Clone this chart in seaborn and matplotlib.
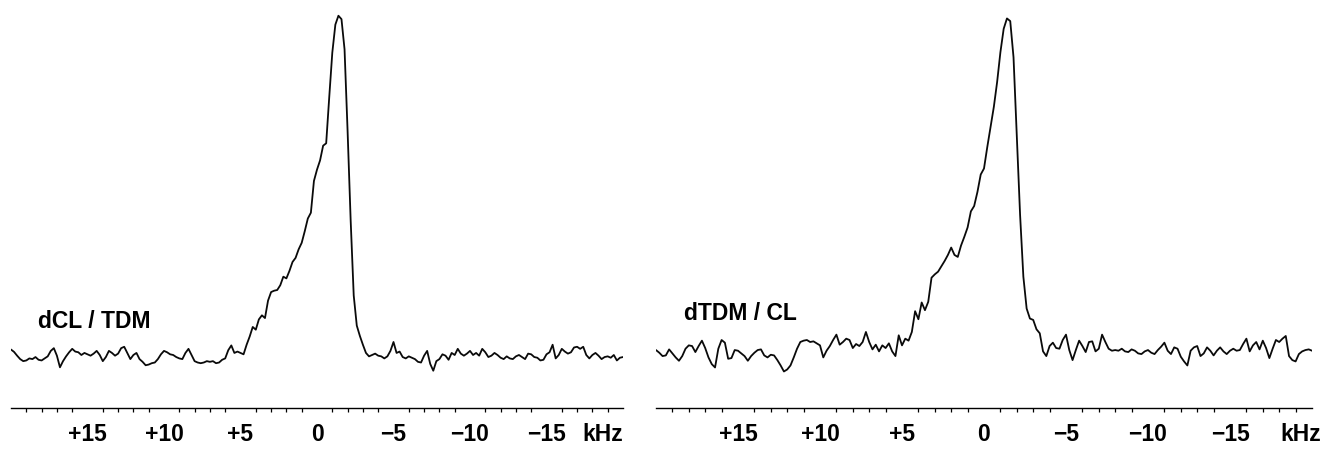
import numpy as np
import pandas as pd
import matplotlib
matplotlib.use("Agg")
import matplotlib.pyplot as plt
import seaborn as sns

# Frequency grid (kHz), 0.2 kHz spacing from +20 down to -20
FREQ_START = 20.0
FREQ_STOP = -20.0
N_POINTS = 201

# Normalised 2H NMR intensities, one row = 10 points (2 kHz)
dcl_tdm = [
    0.022, 0.015, 0.004, -0.006, -0.012, -0.010, -0.004, -0.006, 0.000, -0.008,
    -0.010, -0.004, 0.002, 0.018, 0.026, 0.004, -0.030, -0.012, 0.002, 0.014,
    0.024, 0.016, 0.014, 0.006, 0.012, 0.008, 0.004, 0.010, 0.018, 0.006,
    -0.012, 0.000, 0.018, 0.012, 0.004, 0.010, 0.026, 0.030, 0.012, -0.006,
    0.006, 0.012, -0.006, -0.014, -0.024, -0.022, -0.018, -0.016, -0.006, 0.008,
    0.018, 0.014, 0.008, 0.006, 0.000, -0.004, -0.006, 0.012, 0.024, 0.006,
    -0.012, -0.016, -0.018, -0.016, -0.012, -0.014, -0.012, -0.018, -0.016, -0.008,
    -0.004, 0.020, 0.034, 0.012, 0.016, 0.012, 0.008, 0.036, 0.060, 0.088,
    0.080, 0.110, 0.122, 0.114, 0.165, 0.190, 0.194, 0.196, 0.210, 0.235,
    0.230, 0.252, 0.278, 0.290, 0.315, 0.334, 0.368, 0.405, 0.422, 0.515,
    0.548, 0.575, 0.618, 0.625, 0.760, 0.890, 0.972, 0.998, 0.988, 0.900,
    0.660, 0.400, 0.180, 0.092, 0.062, 0.036, 0.012, 0.002, 0.006, 0.010,
    0.004, 0.002, -0.004, 0.002, 0.018, 0.044, 0.012, 0.016, 0.000, -0.004,
    0.002, -0.002, -0.006, -0.014, -0.016, 0.004, 0.018, -0.020, -0.040, -0.012,
    -0.006, 0.008, 0.004, -0.008, 0.012, 0.006, 0.024, 0.010, 0.004, 0.010,
    0.018, 0.006, 0.012, 0.004, 0.024, 0.014, 0.000, 0.004, 0.012, 0.006,
    -0.002, -0.006, 0.002, -0.004, -0.006, 0.002, 0.006, 0.000, -0.006, 0.010,
    0.008, 0.000, -0.002, -0.010, -0.008, 0.008, 0.014, 0.036, -0.004, 0.006,
    0.024, 0.016, 0.010, 0.014, 0.028, 0.030, 0.024, 0.030, 0.006, -0.004,
    0.006, 0.012, 0.004, -0.006, 0.000, 0.002, -0.002, 0.006, -0.010, -0.002,
    0.000,
]

dtdm_cl = [
    0.006, -0.002, -0.012, -0.010, 0.008, -0.004, -0.016, -0.026, -0.012, 0.010,
    0.020, 0.018, 0.000, 0.018, 0.034, 0.012, -0.016, -0.036, -0.046, 0.010,
    0.036, 0.028, -0.020, -0.018, 0.006, 0.004, -0.004, -0.012, -0.026, -0.012,
    -0.002, 0.006, 0.008, -0.010, -0.016, -0.008, -0.010, -0.024, -0.040, -0.058,
    -0.052, -0.040, -0.016, 0.010, 0.030, 0.034, 0.036, 0.030, 0.032, 0.026,
    0.020, -0.016, 0.004, 0.018, 0.036, 0.052, 0.022, 0.030, 0.040, 0.036,
    0.012, 0.024, 0.018, 0.030, 0.060, 0.030, 0.008, 0.022, 0.002, 0.020,
    0.012, 0.026, 0.002, -0.012, 0.050, 0.020, 0.040, 0.034, 0.060, 0.122,
    0.098, 0.148, 0.125, 0.150, 0.222, 0.232, 0.240, 0.256, 0.272, 0.290,
    0.312, 0.290, 0.284, 0.318, 0.344, 0.372, 0.420, 0.436, 0.478, 0.530,
    0.548, 0.612, 0.672, 0.732, 0.806, 0.895, 0.965, 0.996, 0.988, 0.880,
    0.645, 0.410, 0.225, 0.130, 0.100, 0.096, 0.068, 0.056, 0.002, -0.012,
    0.018, 0.028, 0.012, 0.010, 0.036, 0.052, 0.006, -0.024, 0.006, 0.034,
    0.018, 0.000, 0.030, 0.032, 0.002, 0.010, 0.052, 0.030, 0.010, 0.004,
    0.006, 0.004, 0.010, 0.002, 0.000, 0.008, 0.004, -0.004, -0.006, 0.002,
    0.006, -0.002, -0.006, 0.006, 0.016, 0.028, 0.004, -0.006, 0.014, 0.010,
    -0.014, -0.028, -0.040, 0.004, 0.014, 0.018, -0.012, -0.004, 0.014, 0.004,
    -0.010, 0.004, 0.014, 0.002, -0.006, 0.004, 0.010, 0.004, 0.006, 0.024,
    0.040, 0.002, 0.020, 0.030, 0.008, 0.034, 0.012, -0.018, 0.010, 0.036,
    0.030, 0.040, 0.048, -0.012, -0.024, -0.028, -0.006, 0.002, 0.006, 0.008,
    0.004,
]

sample_labels = ["dCL / TDM", "dTDM / CL"]

major_ticks = [15, 10, 5, 0, -5, -10, -15]
major_tick_labels = ["+15", "+10", "+5", "0", "\u22125", "\u221210", "\u221215"]
unit_label = "kHz"

freq = np.linspace(FREQ_START, FREQ_STOP, N_POINTS)
assert len(dcl_tdm) == N_POINTS and len(dtdm_cl) == N_POINTS

sns.set_style("white")
plt.rcParams["font.family"] = ["Liberation Sans", "DejaVu Sans"]
plt.rcParams["font.weight"] = "bold"
plt.rcParams["text.color"] = "black"
plt.rcParams["xtick.color"] = "black"
plt.rcParams["xtick.labelcolor"] = "black"
plt.rcParams["lines.solid_joinstyle"] = "round"

W, H = 1327, 449
fig = plt.figure(figsize=(W / 100, H / 100), dpi=100)

# panel boxes in pixels: (left, width), shared bottom/height
panels = [
    dict(x0=11, w=612, ylim=(-0.149, 1.044), unit_x=-18.7,
         label_x=38, label_y=321),
    dict(x0=656, w=656, ylim=(-0.167, 1.051), unit_x=-19.3,
         label_x=684, label_y=313),
]
spectra = [dcl_tdm, dtdm_cl]
axis_y = 408
tick_len = 5.5
tick_pad = 5.0
label_size = 16.5

for spec, name, p in zip(spectra, sample_labels, panels):
    ax = fig.add_axes([p["x0"] / W, (H - axis_y) / H, p["w"] / W, axis_y / H])
    df = pd.DataFrame({"freq": freq, "intensity": spec})
    sns.lineplot(data=df, x="freq", y="intensity", ax=ax, color="#0a0a0a",
                 linewidth=1.3, sort=False, estimator=None)
    ax.set_xlim(FREQ_START, FREQ_STOP)
    ax.set_ylim(*p["ylim"])
    for s in ("left", "right", "top"):
        ax.spines[s].set_visible(False)
    ax.spines["bottom"].set_color("black")
    ax.spines["bottom"].set_linewidth(1.0)
    ax.set_yticks([])
    ax.set_xticks(major_ticks)
    ax.set_xticklabels(major_tick_labels)
    ax.set_xticks(np.arange(-19, 20, 1), minor=True)
    ax.tick_params(axis="x", which="major", direction="out", length=tick_len,
                   width=1.0, color="black", pad=tick_pad, labelsize=label_size,
                   labelcolor="black")
    ax.tick_params(axis="x", which="minor", direction="out", length=2.8,
                   width=0.9, color="black", bottom=True)
    for t in ax.get_xticklabels():
        t.set_fontweight("bold")
    ax.set_xlabel("")
    ax.set_ylabel("")
    ax.set_facecolor("none")
    # unit label sitting in the tick-label row
    ax.annotate(unit_label, xy=(p["unit_x"], 0), xycoords=ax.get_xaxis_transform(),
                xytext=(0, -tick_len - tick_pad), textcoords="offset points",
                ha="center", va="top", fontsize=label_size, fontweight="bold",
                color="black")
    fig.text(p["label_x"] / W, 1 - p["label_y"] / H, name, ha="left",
             va="center", fontsize=16.5, fontweight="bold", color="black")

fig.savefig("out.png", dpi=100, facecolor="white")
